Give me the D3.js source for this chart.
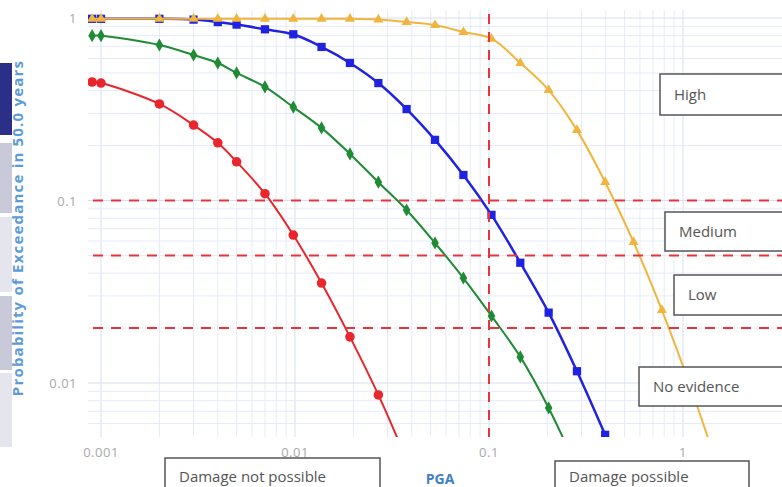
<!DOCTYPE html>
<html>
<head>
<meta charset="utf-8">
<script src="https://cdn.jsdelivr.net/npm/d3@7"></script>
<style>
	body { margin: 0; background: #fff; }
	svg { display: block; }
</style>
</head>
<body>
<div id="chart"></div>
<script>
// PGA values shared by all four curves
var pga = [0.0009, 0.001, 0.002, 0.003, 0.004, 0.005, 0.007, 0.0098, 0.0137, 0.0192, 0.0269, 0.0376,
	0.0527, 0.0738, 0.103, 0.145, 0.203, 0.284, 0.397, 0.556, 0.778, 1.09, 1.52];

// probability of exceedance in 50 years
var redValues = [0.446, 0.44, 0.338, 0.259, 0.207, 0.163, 0.109, 0.0647, 0.0353, 0.0179, 0.0086, 0.0038];
var greenValues = [0.80, 0.80, 0.711, 0.627, 0.567, 0.50, 0.419, 0.325, 0.25, 0.18, 0.126, 0.0887,
	0.0585, 0.0376, 0.0233, 0.0139, 0.0073, 0.0034];
var blueValues = [0.99, 0.99, 0.99, 0.98, 0.95, 0.92, 0.867, 0.814, 0.694, 0.567, 0.44, 0.317,
	0.215, 0.138, 0.0834, 0.0456, 0.0243, 0.0116, 0.0052];
var orangeValues = [0.99, 0.99, 0.99, 0.99, 0.99, 0.99, 0.99, 0.99, 0.99, 0.99, 0.98, 0.95,
	0.915, 0.838, 0.77, 0.567, 0.403, 0.243, 0.126, 0.0592, 0.0251, 0.0096, 0.0034];

var xTicks = [0.001, 0.01, 0.1, 1];
var yTicks = [0.01, 0.1, 1];
var thresholdsY = [0.1, 0.05, 0.02];
var thresholdX = 0.1;
var zoneLabels = ['High', 'Medium', 'Low', 'No evidence'];
var damageLabels = ['Damage not possible', 'Damage possible'];

var width = 782, height = 487;
var plot = { left: 88, right: 782, top: 10, bottom: 437 };

var svg = d3.select('#chart').append('svg')
	.attr('width', width)
	.attr('height', height);

// side panel from the surrounding page
var panel = [
	{ y: 63, h: 72, c: '#2c2f88' },
	{ y: 143, h: 70, c: '#c9cad9' },
	{ y: 217, h: 75, c: '#e5e5ed' },
	{ y: 296, h: 74, c: '#c9cad9' },
	{ y: 373, h: 74, c: '#e5e5ed' }
];
svg.selectAll('rect.panel').data(panel).enter().append('rect')
	.attr('class', 'panel')
	.attr('x', 0).attr('width', 12)
	.attr('y', d => d.y).attr('height', d => d.h)
	.attr('fill', d => d.c);

var x = d3.scaleLog().domain([0.001, 1]).range([101, 683]);
var y = d3.scaleLog().domain([0.01, 1]).range([383, 18]);

svg.append('clipPath').attr('id', 'clip')
	.append('rect')
	.attr('x', plot.left).attr('y', plot.top)
	.attr('width', plot.right - plot.left).attr('height', plot.bottom - plot.top);

var g = svg.append('g').attr('clip-path', 'url(#clip)');

// grid
var xGrid = [];
[0.001, 0.01, 0.1].forEach(function (d) {
	for (var k = 1; k <= 9; k++) xGrid.push(d * k);
});
xGrid.push(1);
var yGrid = [];
[0.001, 0.01, 0.1].forEach(function (d) {
	for (var k = 1; k <= 9; k++) yGrid.push(d * k);
});
yGrid.push(1);
yGrid = yGrid.filter(v => v >= 0.005);

g.selectAll('line.vgrid').data(xGrid).enter().append('line')
	.attr('x1', d => x(d)).attr('x2', d => x(d))
	.attr('y1', plot.top).attr('y2', plot.bottom)
	.attr('stroke', d => xTicks.some(t => Math.abs(t - d) < 1e-9) ? '#d5def2' : '#e6ebf7')
	.attr('stroke-width', 1);

g.selectAll('line.hgrid').data(yGrid).enter().append('line')
	.attr('y1', d => y(d)).attr('y2', d => y(d))
	.attr('x1', plot.left).attr('x2', plot.right)
	.attr('stroke', d => yTicks.some(t => Math.abs(t - d) < 1e-9) ? '#d5def2' : '#e6ebf7')
	.attr('stroke-width', 1);

// curves
var series = [
	{ values: redValues, color: '#e8262c', width: 2, symbol: d3.symbolCircle, size: 72 },
	{ values: greenValues, color: '#1f8b35', width: 2, symbol: d3.symbolDiamond, size: 50 },
	{ values: blueValues, color: '#1f22e0', width: 2.5, symbol: d3.symbolSquare, size: 68 },
	{ values: orangeValues, color: '#f1b53e', width: 2, symbol: d3.symbolTriangle, size: 44 }
];

var line = d3.line()
	.x(d => x(d[0]))
	.y(d => y(d[1]))
	.curve(d3.curveCatmullRom.alpha(0.5));

series.forEach(function (s) {
	var pts = s.values.map((v, i) => [pga[i], v]);
	g.append('path')
		.datum(pts)
		.attr('d', line)
		.attr('fill', 'none')
		.attr('stroke', s.color)
		.attr('stroke-width', s.width);
	g.selectAll(null).data(pts).enter().append('path')
		.attr('d', d3.symbol().type(s.symbol).size(s.size))
		.attr('transform', d => 'translate(' + x(d[0]) + ',' + y(d[1]) + ')')
		.attr('fill', s.color);
});

// threshold lines
g.selectAll('line.thr').data(thresholdsY).enter().append('line')
	.attr('x1', plot.left + 5).attr('x2', plot.right)
	.attr('y1', d => y(d)).attr('y2', d => y(d))
	.attr('stroke', '#e8333d')
	.attr('stroke-width', 2)
	.attr('stroke-dasharray', '10,8');

g.append('line')
	.attr('x1', x(thresholdX)).attr('x2', x(thresholdX))
	.attr('y1', plot.top + 4).attr('y2', plot.bottom + 4)
	.attr('stroke', '#e8333d')
	.attr('stroke-width', 2)
	.attr('stroke-dasharray', '10,8');

// tick labels
svg.selectAll('text.xt').data(xTicks).enter().append('text')
	.attr('x', d => x(d)).attr('y', 457)
	.attr('text-anchor', 'middle')
	.attr('font-family', 'Open Sans')
	.attr('font-size', 13)
	.attr('letter-spacing', 0.5)
	.attr('fill', '#a8a8a8')
	.text(d => String(d));

svg.selectAll('text.yt').data(yTicks).enter().append('text')
	.attr('x', 77).attr('y', d => y(d) + 5)
	.attr('text-anchor', 'end')
	.attr('font-family', 'Open Sans')
	.attr('font-size', 13)
	.attr('letter-spacing', 0.5)
	.attr('fill', '#a8a8a8')
	.text(d => String(d));

// axis titles
svg.append('text')
	.attr('x', 440).attr('y', 484)
	.attr('text-anchor', 'middle')
	.attr('font-family', 'Open Sans')
	.attr('font-weight', 'bold')
	.attr('font-size', 14)
	.attr('fill', '#3f7fc4')
	.text('PGA');

svg.append('text')
	.attr('transform', 'translate(23,228) rotate(-90)')
	.attr('text-anchor', 'middle')
	.attr('font-family', 'Open Sans')
	.attr('font-weight', 'bold')
	.attr('font-size', 15)
	.attr('letter-spacing', 1.2)
	.attr('fill', '#5c9ad8')
	.text('Probability of Exceedance in 50.0 years');

// annotation boxes
var boxes = [
	{ text: zoneLabels[0], x: 660, y: 74, w: 140, h: 41 },
	{ text: zoneLabels[1], x: 665, y: 212, w: 140, h: 39 },
	{ text: zoneLabels[2], x: 674, y: 275, w: 140, h: 40 },
	{ text: zoneLabels[3], x: 639, y: 367, w: 160, h: 39 },
	{ text: damageLabels[0], x: 165, y: 458, w: 215, h: 40 },
	{ text: damageLabels[1], x: 555, y: 461, w: 194, h: 40 }
];

var bg = svg.selectAll('g.box').data(boxes).enter().append('g').attr('class', 'box');
bg.append('rect')
	.attr('x', d => d.x).attr('y', d => d.y)
	.attr('width', d => d.w).attr('height', d => d.h)
	.attr('fill', '#fff')
	.attr('stroke', '#555')
	.attr('stroke-width', 1.5);
bg.append('text')
	.attr('x', d => d.x + 14)
	.attr('y', d => d.y > 450 ? 482 : d.y + d.h / 2 + 5)
	.attr('font-family', 'Open Sans')
	.attr('font-size', 15)
	.attr('fill', '#555')
	.text(d => d.text);
</script>
</body>
</html>
